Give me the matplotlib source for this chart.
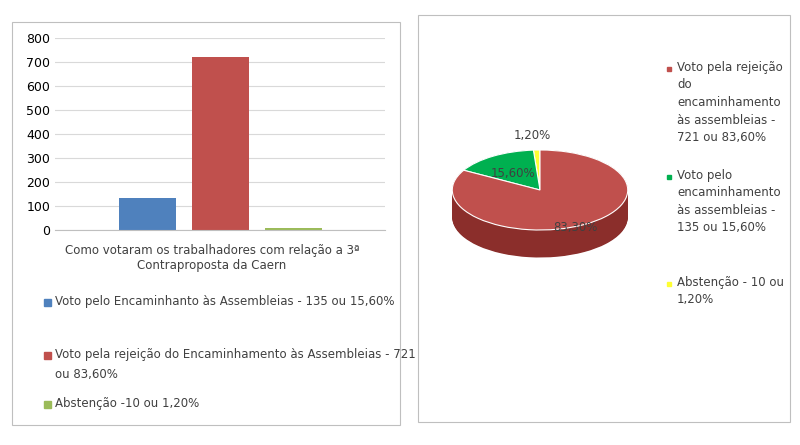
import matplotlib
matplotlib.use("Agg")
import matplotlib.pyplot as plt
from matplotlib.patches import Rectangle, Wedge
from matplotlib.transforms import Affine2D
import numpy as np

categories = ["Voto pelo Encaminhanto às Assembleias - 135 ou 15,60%",
              "Voto pela rejeição do Encaminhamento às Assembleias - 721\nou 83,60%",
              "Abstenção -10 ou 1,20%"]
bar_values = [135, 721, 10]
bar_colors = ["#4f81bd", "#c0504d", "#9bbb59"]
yticks = [0, 100, 200, 300, 400, 500, 600, 700, 800]
xlabel = "Como votaram os trabalhadores com relação a 3ª\nContraproposta da Caern"

pie_values = [1.2, 15.6, 83.3]
pie_labels = ["1,20%", "15,60%", "83,30%"]
pie_colors = ["#ffff33", "#00b050", "#c0504d"]
pie_dark = ["#b3b300", "#007a38", "#8b2e2b"]
pie_legend = ["Voto pela rejeição\ndo\nencaminhamento\nàs assembleias -\n721 ou 83,60%",
              "Voto pelo\nencaminhamento\nàs assembleias -\n135 ou 15,60%",
              "Abstenção - 10 ou\n1,20%"]
pie_legend_colors = ["#c0504d", "#00b050", "#ffff33"]

W, H = 800, 445
fig = plt.figure(figsize=(8, 4.45), dpi=100)
def fx(x): return x / W
def fy(y): return 1 - y / H

for (x0, y0, x1, y1) in [(12, 22, 400, 425), (418, 15, 790, 422)]:
    fig.patches.append(Rectangle((fx(x0), fy(y1)), fx(x1 - x0), (y1 - y0) / H,
                                 transform=fig.transFigure, fill=False, ec="#bfbfbf", lw=0.8))

ax = fig.add_axes([fx(55), fy(230), fx(330), (230 - 38) / H])
ax.bar(range(3), bar_values, width=0.78, color=bar_colors)
ax.set_xlim(-1.27, 3.25)
ax.set_ylim(0, 800)
ax.set_yticks(yticks)
ax.tick_params(axis="y", length=0, labelsize=9)
ax.set_xticks([])
ax.yaxis.grid(True, color="#d9d9d9", lw=0.8)
ax.set_axisbelow(True)
for s in ["top", "right", "left"]:
    ax.spines[s].set_visible(False)
ax.spines["bottom"].set_color("#bfbfbf")
fig.text(fx(212), fy(258), xlabel, ha="center", va="center", fontsize=8.5, color="#404040")
for lab, c, y in zip(categories, bar_colors, [302, 355, 404]):
    fig.patches.append(Rectangle((fx(44), fy(y + 4)), fx(7), 7 / H, transform=fig.transFigure, color=c))
    fig.text(fx(55), fy(y - 7), lab, ha="left", va="top", fontsize=8.5, color="#404040", linespacing=1.7)

pax = fig.add_axes([fx(440), fy(290), fx(200), 200 / H])
pax.set_xlim(-1.14, 1.14)
pax.set_ylim(-2.0, 2.0)
pax.axis("off")
sy = 0.8
start = 90
angles = []
for v in pie_values:
    a = v / sum(pie_values) * 360
    angles.append((start, start + a))
    start += a
for d in np.linspace(0.55, 0.0, 40):
    for (a0, a1), cd in zip(angles, pie_dark):
        w = Wedge((0, 0), 1, a0, a1, color=cd, lw=0)
        w.set_transform(Affine2D().scale(1, sy).translate(0, -d) + pax.transData)
        pax.add_patch(w)
for (a0, a1), c in zip(angles, pie_colors):
    w = Wedge((0, 0), 1, a0, a1, color=c, ec="white", lw=0.8)
    w.set_transform(Affine2D().scale(1, sy) + pax.transData)
    pax.add_patch(w)
fig.text(fx(532), fy(135), pie_labels[0], ha="center", va="center", fontsize=8.5, color="#404040")
fig.text(fx(513), fy(173), pie_labels[1], ha="center", va="center", fontsize=8.5, color="#404040")
fig.text(fx(575), fy(227), pie_labels[2], ha="center", va="center", fontsize=8.5, color="#404040")

for lab, c, y in zip(pie_legend, pie_legend_colors, [68, 176, 283]):
    fig.patches.append(Rectangle((fx(667), fy(y + 3)), fx(4), 4 / H, transform=fig.transFigure, color=c))
    fig.text(fx(677), fy(y - 7), lab, ha="left", va="top", fontsize=8.5, color="#404040", linespacing=1.45)

fig.savefig("out.png", dpi=100)
